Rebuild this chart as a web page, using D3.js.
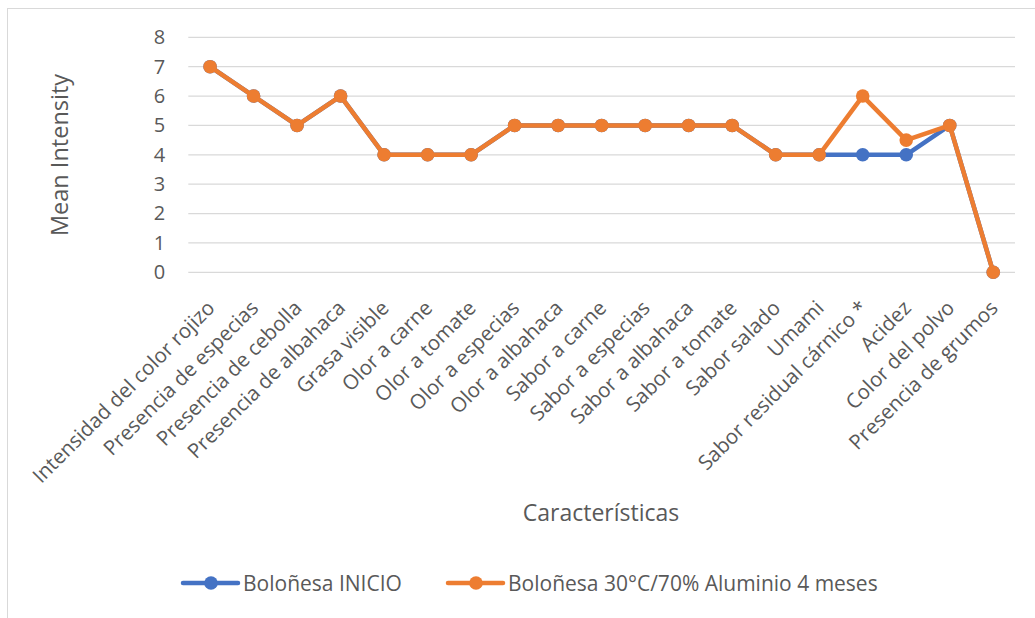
<!DOCTYPE html>
<html>
<head>
<meta charset="utf-8">
<script src="https://cdn.jsdelivr.net/npm/d3@7"></script>
<style>
  html, body { margin: 0; padding: 0; background: #fff; }
  svg { display: block; }
  text { font-family: "Open Sans", Lato, sans-serif; fill: #595959; }
</style>
</head>
<body>
<svg id="chart" width="1035" height="618"></svg>
<script>
// Sensory attributes on the x axis
const categories = [
  "Intensidad del color rojizo", "Presencia de especias", "Presencia de cebolla",
  "Presencia de albahaca", "Grasa visible", "Olor a carne", "Olor a tomate",
  "Olor a especias", "Olor a albahaca", "Sabor a carne", "Sabor a especias",
  "Sabor a albahaca", "Sabor a tomate", "Sabor salado", "Umami",
  "Sabor residual cárnico *", "Acidez", "Color del polvo", "Presencia de grumos"
];

// Mean intensity per attribute
const inicio = [7, 6, 5, 6, 4, 4, 4, 5, 5, 5, 5, 5, 5, 4, 4, 4, 4, 5, 0];
const aluminio4m = [7, 6, 5, 6, 4, 4, 4, 5, 5, 5, 5, 5, 5, 4, 4, 6, 4.5, 5, 0];

const yTicks = [0, 1, 2, 3, 4, 5, 6, 7, 8];

const seriesNames = ["Boloñesa INICIO", "Boloñesa 30°C/70% Aluminio 4 meses"];
const seriesColors = ["#4472C4", "#ED7D31"];

const FONT = "'Open Sans', Lato, sans-serif";
const svg = d3.select("#chart");

// Chart area frame
svg.append("rect")
  .attr("x", 7.5).attr("y", 8.5)
  .attr("width", 1040).attr("height", 620)
  .attr("fill", "none").attr("stroke", "#D9D9D9").attr("stroke-width", 1);

const plot = { left: 188.3, right: 1015, top: 37.3, bottom: 272.3 };

const x = d3.scaleBand().domain(categories).range([plot.left, plot.right]);
const y = d3.scaleLinear().domain([0, 8]).range([plot.bottom, plot.top]);

// Horizontal gridlines
svg.append("g")
  .selectAll("line")
  .data(yTicks)
  .join("line")
  .attr("x1", plot.left).attr("x2", plot.right)
  .attr("y1", d => y(d)).attr("y2", d => y(d))
  .attr("stroke", "#D9D9D9").attr("stroke-width", 1.3);

// Y axis labels
const yAxis = d3.axisLeft(y).tickValues(yTicks).tickSize(0).tickPadding(23);
const gy = svg.append("g").attr("transform", `translate(${plot.left},0)`).call(yAxis);
gy.select(".domain").remove();
gy.selectAll("text")
  .attr("font-size", 20)
  .attr("fill", "#595959")
  .style("font-family", FONT);

// X axis labels, rotated
const xAxis = d3.axisBottom(x).tickSize(0).tickPadding(0);
const gx = svg.append("g").attr("transform", `translate(0,${plot.bottom})`).call(xAxis);
gx.select(".domain").remove();
gx.selectAll("text")
  .attr("font-size", 20.5)
  .attr("fill", "#595959")
  .style("font-family", FONT)
  .attr("text-anchor", "end")
  .attr("dy", null)
  .attr("y", 0)
  .attr("transform", "translate(6,37) rotate(-45)");

// Axis titles
svg.append("text")
  .attr("transform", `translate(68,155) rotate(-90)`)
  .attr("text-anchor", "middle")
  .attr("font-size", 23.5)
  .text("Mean Intensity");

svg.append("text")
  .attr("x", 601).attr("y", 521)
  .attr("text-anchor", "middle")
  .attr("font-size", 23)
  .text("Características");

// Series lines and markers
const allSeries = [inicio, aluminio4m];
const line = d3.line()
  .x((d, i) => x(categories[i]) + x.bandwidth() / 2)
  .y(d => y(d));

allSeries.forEach((vals, s) => {
  const g = svg.append("g");
  g.append("path")
    .datum(vals)
    .attr("d", line)
    .attr("fill", "none")
    .attr("stroke", seriesColors[s])
    .attr("stroke-width", 4.5)
    .attr("stroke-linejoin", "round")
    .attr("stroke-linecap", "round");
  g.selectAll("circle")
    .data(vals)
    .join("circle")
    .attr("cx", (d, i) => x(categories[i]) + x.bandwidth() / 2)
    .attr("cy", d => y(d))
    .attr("r", 6.8)
    .attr("fill", seriesColors[s]);
});

// Legend
const legendItems = [
  { x0: 183, name: seriesNames[0], color: seriesColors[0] },
  { x0: 448, name: seriesNames[1], color: seriesColors[1] }
];
const legendY = 583;
const lg = svg.append("g");
legendItems.forEach(it => {
  lg.append("line")
    .attr("x1", it.x0).attr("x2", it.x0 + 55)
    .attr("y1", legendY).attr("y2", legendY)
    .attr("stroke", it.color).attr("stroke-width", 4.5)
    .attr("stroke-linecap", "round");
  lg.append("circle")
    .attr("cx", it.x0 + 28).attr("cy", legendY).attr("r", 6.8)
    .attr("fill", it.color);
  lg.append("text")
    .attr("x", it.x0 + 60).attr("y", legendY + 7.5)
    .attr("font-size", 21)
    .text(it.name);
});
</script>
</body>
</html>
